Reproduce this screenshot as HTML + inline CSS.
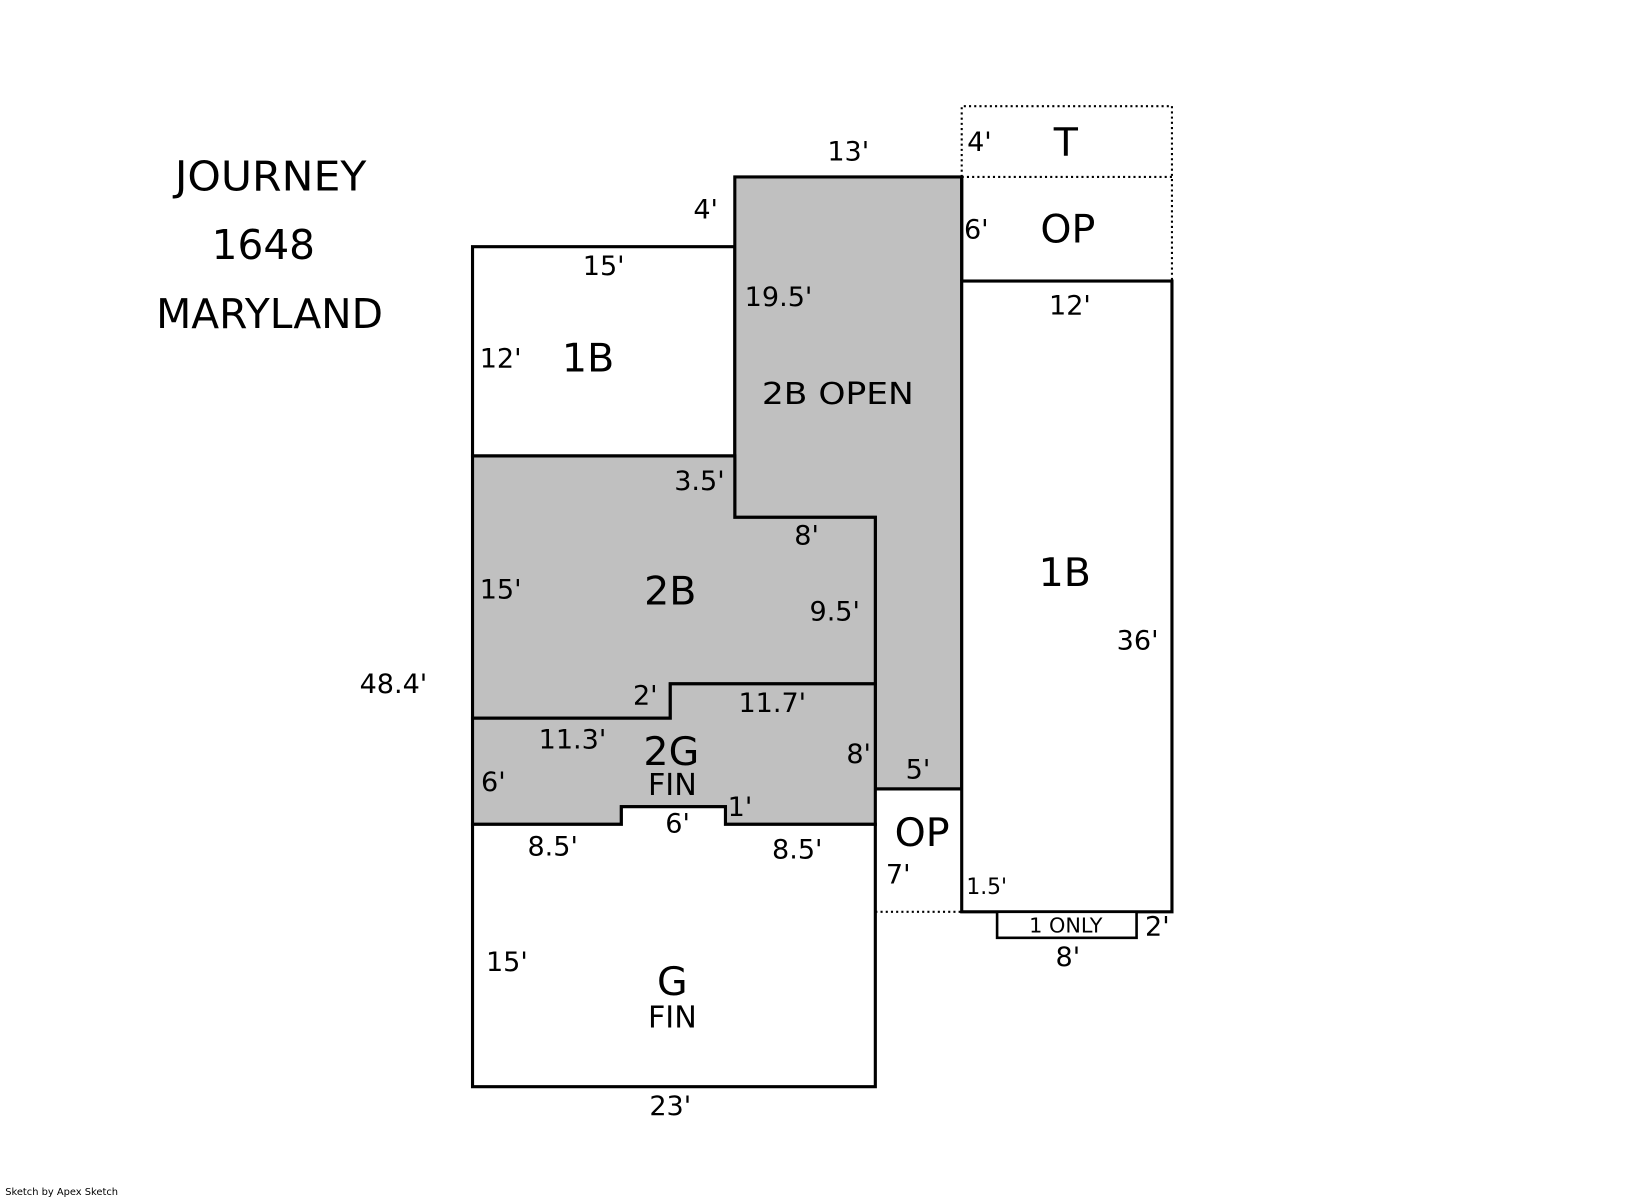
<!DOCTYPE html>
<html><head><style>html,body{margin:0;padding:0;background:#fff;}svg{display:block}</style></head>
<body>
<svg width="1632" height="1197" viewBox="0 0 1568 1150" preserveAspectRatio="none" xmlns="http://www.w3.org/2000/svg" font-family="DejaVu Sans, Liberation Sans, sans-serif" fill="#000">
<g stroke="#000" stroke-width="3">
<rect x="454" y="237" width="252" height="201" fill="#fff"/>
<polygon points="706,170 924,170 924,758 841,758 841,497 706,497" fill="#c0c0c0"/>
<polygon points="454,438 706,438 706,497 841,497 841,657 644,657 644,690 454,690" fill="#c0c0c0"/>
<polygon points="454,690 644,690 644,657 841,657 841,792 697,792 697,775 597,775 597,792 454,792" fill="#c0c0c0"/>
<polygon points="454,792 597,792 597,775 697,775 697,792 841,792 841,1044 454,1044" fill="#fff"/>
<line x1="841" y1="758" x2="924" y2="758"/>
<rect x="924" y="270" width="202" height="606" fill="#fff"/>
<rect x="958" y="876" width="134" height="25" fill="#fff" stroke-width="2.5"/>
<line x1="924" y1="170" x2="924" y2="270"/>
</g>
<g stroke="#000" stroke-width="2" stroke-dasharray="2,3" fill="none">
<polyline points="924,170 924,102 1126,102 1126,270"/>
<line x1="924" y1="170" x2="1126" y2="170"/>
<line x1="841" y1="876" x2="924" y2="876"/>
</g>
<g font-size="39" text-anchor="middle">
<text x="260" y="183" textLength="184" lengthAdjust="spacingAndGlyphs">JOURNEY</text>
<text x="253" y="249">1648</text>
<text x="259" y="315" textLength="218" lengthAdjust="spacingAndGlyphs">MARYLAND</text>
</g>
<g font-size="38" text-anchor="middle">
<text x="1024" y="150">T</text>
<text x="1026" y="233">OP</text>
<text x="565" y="357">1B</text>
<text x="1023" y="563">1B</text>
<text x="644" y="581">2B</text>
<text x="645" y="735">2G</text>
<text x="886" y="813">OP</text>
<text x="646" y="956">G</text>
</g>
<g font-size="29" text-anchor="middle">
<text x="805" y="388" textLength="146" lengthAdjust="spacingAndGlyphs">2B OPEN</text>
<text x="646" y="764">FIN</text>
<text x="646" y="987">FIN</text>
</g>
<g font-size="26" text-anchor="middle">
<text x="815" y="154">13'</text>
<text x="678" y="210">4'</text>
<text x="941" y="145">4'</text>
<text x="938" y="229">6'</text>
<text x="580" y="264">15'</text>
<text x="748" y="294">19.5'</text>
<text x="1028" y="302">12'</text>
<text x="481" y="353">12'</text>
<text x="672" y="471">3.5'</text>
<text x="775" y="523">8'</text>
<text x="481" y="575">15'</text>
<text x="802" y="596">9.5'</text>
<text x="1093" y="624">36'</text>
<text x="378" y="666">48.4'</text>
<text x="620" y="677">2'</text>
<text x="742" y="684">11.7'</text>
<text x="550" y="719">11.3'</text>
<text x="825" y="733">8'</text>
<text x="882" y="748">5'</text>
<text x="474" y="760">6'</text>
<text x="711" y="784">1'</text>
<text x="651" y="800">6'</text>
<text x="531" y="822">8.5'</text>
<text x="766" y="825">8.5'</text>
<text x="863" y="849">7'</text>
<text x="1112" y="899">2'</text>
<text x="1026" y="928">8'</text>
<text x="487" y="933">15'</text>
<text x="644" y="1071">23'</text>
</g>
<text x="948" y="859" font-size="21" text-anchor="middle">1.5'</text>
<text x="1024" y="896" font-size="20" text-anchor="middle">1 ONLY</text>
<text x="5" y="1148" font-size="9.5">Sketch by Apex Sketch</text>
</svg>
</body></html>
